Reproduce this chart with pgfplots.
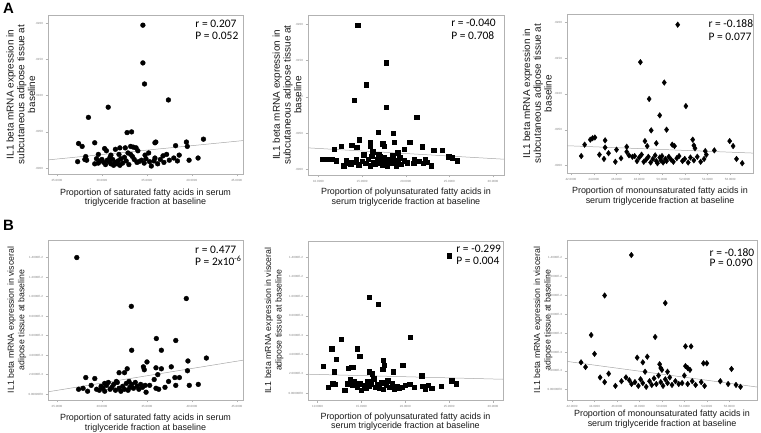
\documentclass[border=0pt]{standalone}
\usepackage{fontspec}
\setmainfont{Liberation Sans}
\newfontfamily\carlito{Carlito}
\usepackage{pgfplots}
\pgfplotsset{compat=1.18}
\pgfplotsset{
  panel/.style={
    scale only axis,
    axis line style={gray!60, line width=0.4pt},
    tick style={gray!60, line width=0.3pt},
    tick align=outside,
    major tick length=2.5bp,
    xtick pos=left, ytick pos=left,
    scaled x ticks=false, scaled y ticks=false,
    ticklabel style={font=\fontsize{3}{3.5}\selectfont, text=gray},
    xticklabel style={yshift=1bp},
    yticklabel style={xshift=1bp},
    xlabel style={font=\fontsize{9}{9.5}\selectfont, align=center, text=black!90, anchor=center},
    ylabel style={align=center, text=black!90, anchor=center},
  },
  dotA/.style={only marks, mark=*, mark size=2.4bp, black},
  sqA/.style={only marks, mark=square*, mark size=2.2bp, black},
  diA/.style={only marks, mark=diamond*, mark size=2.8bp, black},
  reg/.style={gray!70, line width=0.5pt, no marks},
}
\tikzset{rp/.style={font=\carlito\fontsize{11.5}{13}\selectfont, anchor=base west, inner sep=0pt}}
\begin{document}
\begin{tikzpicture}
\useasboundingbox (0bp,0bp) rectangle (761bp,433bp);
\node[anchor=north west, inner sep=0pt, font=\bfseries\fontsize{15}{15}\selectfont] at (3bp,430bp) {A};
\node[anchor=north west, inner sep=0pt, font=\bfseries\fontsize{15}{15}\selectfont] at (3bp,213bp) {B};

% ---------- A1 ----------
\begin{axis}[panel, at={(48bp,259bp)}, anchor=south west, width=195bp, height=159bp,
  xmin=24, xmax=45.7, ymin=-0.0008, ymax=0.0211,
  xtick={25,30,35,40,45}, xticklabels={25.0000,30.0000,35.0000,40.0000,45.0000},
  ytick={0,0.005,0.01,0.015,0.02}, yticklabels={.0000,.0050,.0100,.0150,.0200},
  xlabel={Proportion of saturated fatty acids in serum\\triglyceride fraction at baseline},
  xlabel style={at={(axis description cs:0.5,-0.148)}},
  ylabel={IL1 beta mRNA expression in\\subcutaneous adipose tissue at\\baseline},
  ylabel style={at={(axis description cs:-0.14,0.5)}, font=\fontsize{10}{10.8}\selectfont},
]
\addplot[reg] coordinates {(24,0.00114) (45.7,0.0038)};
\addplot[dotA] coordinates {
(34.56,0.0197)(34.56,0.0145)(34.74,0.0116)(37.4,0.0094)(30.7,0.0084)(28.5,0.0070)(32.8,0.0049)(33.3,0.0050)
(27.4,0.0034)(27.8,0.0030)(29.2,0.0035)(35.9,0.0035)(36.0,0.0036)(39.4,0.0036)(39.5,0.0030)(38.2,0.0031)(41.3,0.0040)
(33.2,0.0030)(33.5,0.0029)(33.8,0.0028)(32.0,0.0028)(32.6,0.0028)(30.3,0.0027)(31.5,0.0026)(30.5,0.0024)(29.6,0.0019)
(31.0,0.0018)(32.9,0.0021)(34.0,0.0024)(35.2,0.0021)(34.8,0.0018)(36.8,0.0017)(37.2,0.0019)(38.6,0.0018)
(27.3,0.0009)(28.2,0.0016)(28.1,0.0012)(28.3,0.0011)(39.7,0.0011)(40.7,0.0014)(29.2,0.0006)(29.6,0.0007)(29.8,0.0010)
(30.0,0.0012)(30.2,0.0008)(30.4,0.0005)(30.6,0.0011)(30.8,0.0009)(31.0,0.0006)(31.2,0.0012)(31.3,0.0004)(31.5,0.0008)
(31.7,0.0006)(31.8,0.0010)(32.0,0.0004)(32.1,0.0013)(32.3,0.0007)(32.5,0.0015)(32.7,0.0010)(33.0,0.0005)(33.4,0.0016)
(33.6,0.0012)(33.9,0.0008)(34.1,0.0009)(34.4,0.0011)(34.7,0.0007)(34.9,0.0013)(35.3,0.0009)(35.5,0.0003)(35.8,0.0010)
(36.2,0.0006)(36.5,0.0012)(36.9,0.0008)(37.5,0.0011)(38.0,0.0014)(38.4,0.0010)(30.9,0.0015)(29.4,0.0013)(31.9,0.0019)
(33.2,0.0019)(35.9,0.0014)
};
\node[rp] at (axis description cs:0.755,0.923) {r = 0.207};
\node[rp] at (axis description cs:0.755,0.843) {P = 0.052};
\end{axis}

% ---------- A2 ----------
\begin{axis}[panel, at={(308bp,258bp)}, anchor=south west, width=196bp, height=160bp,
  xmin=8.8, xmax=31.26, ymin=-0.0008, ymax=0.0213,
  xtick={10,15,20,25,30}, xticklabels={10.0000,15.0000,20.0000,25.0000,30.0000},
  ytick={0,0.005,0.01,0.015,0.02}, yticklabels={.0000,.0050,.0100,.0150,.0200},
  xlabel={Proportion of polyunsaturated fatty acids in\\serum triglyceride fraction at baseline},
  xlabel style={at={(axis description cs:0.5,-0.14)}},
  ylabel={IL1 beta mRNA expression in\\subcutaneous adipose tissue at\\baseline},
  ylabel style={at={(axis description cs:-0.107,0.5)}, font=\fontsize{10}{10.8}\selectfont},
]
\addplot[reg] coordinates {(8.8,0.00295) (31.26,0.00138)};
\addplot[sqA] coordinates {
(14.5,0.0199)(17.73,0.0147)(15.45,0.0117)(14.08,0.0095)(17.73,0.0086)(21.24,0.0072)(16.86,0.0051)(18.57,0.0050)
(14.69,0.0041)(15.9,0.0037)(15.9,0.0032)(17.35,0.0035)(17.5,0.0032)(18.67,0.0037)(20.45,0.0037)(19.8,0.0028)
(21.9,0.0031)(23.2,0.0026)(24.2,0.0026)(12.6,0.0032)(11.8,0.0028)(13.8,0.0033)(14.4,0.0030)(19.1,0.0023)
(10.5,0.0014)(11.1,0.0014)(11.5,0.0014)(12.0,0.0012)(24.9,0.0017)(25.3,0.0016)(25.9,0.0012)(22.9,0.0005)
(20.9,0.0008)(22.2,0.0014)
(12.9,0.0005)(13.2,0.0012)(13.5,0.0009)(13.7,0.0007)(14.0,0.0010)(14.3,0.0013)(14.6,0.0006)(15.0,0.0011)
(15.2,0.0020)(15.4,0.0008)(15.7,0.0014)(15.9,0.0005)(16.1,0.0018)(16.3,0.0010)(16.5,0.0007)(16.7,0.0013)
(16.9,0.0021)(17.1,0.0009)(17.3,0.0006)(17.5,0.0016)(17.7,0.0011)(17.9,0.0004)(18.1,0.0014)(18.3,0.0008)
(18.5,0.0019)(18.7,0.0012)(18.9,0.0005)(19.1,0.0010)(19.3,0.0016)(19.5,0.0007)(19.8,0.0012)(20.2,0.0009)
(21.0,0.0013)(21.5,0.0011)(22.0,0.0008)(22.4,0.0010)(16.2,0.0024)(17.0,0.0017)
};
\node[rp] at (axis description cs:0.73,0.925) {r = -0.040};
\node[rp] at (axis description cs:0.73,0.845) {P = 0.708};
\end{axis}

% ---------- A3 ----------
\begin{axis}[panel, at={(567bp,260bp)}, anchor=south west, width=186bp, height=159bp,
  xmin=41.65, xmax=58.0, ymin=-0.00107, ymax=0.0212,
  xtick={42,44,46,48,50,52,54,56}, xticklabels={42.0000,44.0000,46.0000,48.0000,50.0000,52.0000,54.0000,56.0000},
  ytick={0,0.005,0.01,0.015,0.02}, yticklabels={.0000,.0050,.0100,.0150,.0200},
  xlabel={Proportion of monounsaturated fatty acids in\\serum triglyceride fraction at baseline},
  xlabel style={at={(axis description cs:0.5,-0.145)}},
  ylabel={IL1 beta mRNA expression in\\subcutaneous adipose tissue at\\baseline},
  ylabel style={at={(axis description cs:-0.16,0.5)}, font=\fontsize{10}{10.8}\selectfont},
]
\addplot[reg] coordinates {(41.65,0.00275) (58.0,0.00172)};
\addplot[diA] coordinates {
(51.38,0.0197)(48.1,0.01445)(50.2,0.0116)(48.87,0.0093)(52.1,0.0083)(49.8,0.0070)(49.05,0.0049)(50.4,0.0050)
(43.2,0.0029)(43.7,0.0036)(43.9,0.0038)(44.1,0.0039)(45.0,0.0035)(45.0,0.0025)(44.5,0.0015)(44.9,0.0009)
(45.3,0.0017)(42.9,0.0013)(45.9,0.0005)(46.0,0.0022)(46.4,0.0010)(46.9,0.0026)(46.9,0.0019)(48.5,0.0034)
(48.7,0.0027)(49.5,0.0031)(50.9,0.0029)(51.1,0.0027)(52.7,0.0036)(52.8,0.0028)(52.9,0.0024)(53.8,0.0020)
(54.6,0.0021)(55.95,0.0034)(56.25,0.0027)(56.55,0.0009)(57.05,0.0003)
(47.1,0.0014)(47.4,0.0012)(47.6,0.0013)(47.8,0.0006)(48.0,0.0011)(48.2,0.0015)(48.4,0.0005)(48.6,0.0008)
(48.8,0.0012)(49.0,0.0004)(49.2,0.0009)(49.4,0.0014)(49.5,0.0006)(49.6,0.0003)(49.8,0.0011)(49.9,0.0007)
(50.0,0.0013)(50.1,0.0004)(50.3,0.0009)(50.4,0.0006)(50.6,0.0012)(50.8,0.0008)(51.0,0.0005)(51.3,0.0010)
(51.5,0.0013)(51.8,0.0006)(52.0,0.0009)(52.3,0.0004)(52.5,0.0011)(52.8,0.0007)(53.1,0.0012)(53.4,0.0005)
(53.7,0.0009)(53.9,0.0015)
};
\node[rp] at (axis description cs:0.76,0.918) {r = -0.188};
\node[rp] at (axis description cs:0.76,0.836) {P = 0.077};
\end{axis}

% ---------- B1 ----------
\begin{axis}[panel, at={(48bp,33bp)}, anchor=south west, width=195bp, height=160bp,
  xmin=24, xmax=45.67, ymin=-0.0006, ymax=0.0158,
  xtick={25,30,35,40,45}, xticklabels={25.0000,30.0000,35.0000,40.0000,45.0000},
  ytick={0,0.002,0.004,0.006,0.008,0.01,0.012,0.014},
  yticklabels={0.00000E0,2.0000E-3,4.0000E-3,6.0000E-3,8.0000E-3,1.0000E-2,1.2000E-2,1.4000E-2},
  xlabel={Proportion of saturated fatty acids in serum\\triglyceride fraction at baseline},
  xlabel style={at={(axis description cs:0.5,-0.144)}},
  ylabel={IL1 beta mRNA expression in visceral\\adipose tissue at baseline},
  ylabel style={at={(axis description cs:-0.16,0.5)}, font=\fontsize{8.8}{10.5}\selectfont},
]
\addplot[reg] coordinates {(24,0.00024) (45.67,0.00348)};
\addplot[dotA] coordinates {
(27.2,0.0140)(33.26,0.0090)(39.37,0.0098)(36.04,0.0057)(38.2,0.0055)(33.3,0.0045)(36.6,0.0045)(41.6,0.0037)
(39.55,0.0034)(39.5,0.0024)(35.0,0.0033)(34.6,0.0028)(34.7,0.0025)(32.8,0.0026)(31.9,0.0022)(32.5,0.0022)
(36.0,0.0027)(36.6,0.0026)(37.7,0.0028)(38.1,0.0017)(38.6,0.0017)(36.2,0.0020)(28.2,0.0017)(29.2,0.0016)
(27.4,0.0005)(27.9,0.0006)(28.4,0.0003)(28.8,0.0009)(39.7,0.0009)(40.7,0.0010)(38.2,0.0009)(36.0,0.0006)
(36.3,0.0005)(34.9,0.0002)(37.0,0.0007)(37.4,0.0013)(35.8,0.0015)(35.3,0.0009)
(29.4,0.0005)(29.7,0.0004)(29.9,0.0008)(30.1,0.0006)(30.3,0.0003)(30.5,0.0009)(30.7,0.0012)(30.9,0.0005)
(31.1,0.0007)(31.3,0.0010)(31.5,0.0004)(31.7,0.0012)(31.9,0.0006)(32.1,0.0003)(32.3,0.0008)(32.5,0.0005)
(32.7,0.0011)(32.9,0.0004)(33.1,0.0007)(33.3,0.0010)(33.5,0.0006)(33.7,0.0012)(33.9,0.0008)(34.1,0.0005)
(34.3,0.0010)(34.5,0.0007)(34.8,0.0009)(31.6,0.0013)(30.3,0.0011)(33.0,0.0013)
};
\node[rp] at (axis description cs:0.754,0.917) {r = 0.477};
\node[rp] at (axis description cs:0.754,0.84) {P = 2x10\textsuperscript{-6}};
\end{axis}

% ---------- B2 ----------
\begin{axis}[panel, at={(308bp,33bp)}, anchor=south west, width=195bp, height=159bp,
  xmin=8.9, xmax=31.14, ymin=-0.0007, ymax=0.0157,
  xtick={10,15,20,25,30}, xticklabels={10.0000,15.0000,20.0000,25.0000,30.0000},
  ytick={0,0.002,0.004,0.006,0.008,0.01,0.012,0.014},
  yticklabels={0.00000E0,2.0000E-3,4.0000E-3,6.0000E-3,8.0000E-3,1.0000E-2,1.2000E-2,1.4000E-2},
  xlabel={Proportion of polyunsaturated fatty acids in\\serum triglyceride fraction at baseline},
  xlabel style={at={(axis description cs:0.5,-0.137)}},
  ylabel={IL1 beta mRNA expression in visceral\\adipose tissue at baseline},
  ylabel style={at={(axis description cs:-0.174,0.5)}, font=\fontsize{8.8}{10.5}\selectfont},
]
\addplot[reg] coordinates {(8.9,0.00196) (31.14,0.00144)};
\addplot[sqA] coordinates {
(25.0,0.0142)(15.9,0.0099)(16.93,0.0092)(20.53,0.0058)(12.7,0.0056)(11.6,0.0046)(14.5,0.0046)(14.8,0.0038)
(12.1,0.0035)(10.6,0.0028)(11.9,0.0022)(13.5,0.0026)(13.8,0.0027)(14.0,0.0027)(17.5,0.0034)(17.6,0.0029)
(17.4,0.0025)(19.7,0.0029)(18.6,0.0022)(15.9,0.0022)(16.2,0.0020)(21.86,0.0018)(25.3,0.0013)(25.8,0.0010)
(24.1,0.0007)(11.2,0.0006)(13.1,0.0003)(11.7,0.0010)(12.0,0.0009)
(13.4,0.0010)(13.7,0.0014)(14.0,0.0008)(14.2,0.0012)(14.5,0.0006)(14.8,0.0010)(15.0,0.0003)(15.3,0.0008)
(15.5,0.0005)(15.7,0.0012)(15.9,0.0007)(16.1,0.0010)(16.4,0.0015)(16.6,0.0006)(16.8,0.0009)(17.0,0.0005)
(17.3,0.0011)(17.5,0.0004)(17.8,0.0008)(18.0,0.0013)(18.2,0.0006)(18.5,0.0010)(18.7,0.0004)(19.0,0.0007)
(19.3,0.0005)(19.6,0.0006)(20.0,0.0008)(20.5,0.0009)(21.0,0.0006)(22.0,0.0007)(22.3,0.0004)(22.6,0.0008)
(23.0,0.0005)
};
\node[rp] at (axis description cs:0.76,0.93) {r = -0.299};
\node[rp] at (axis description cs:0.76,0.85) {P = 0.004};
\end{axis}

% ---------- B3 ----------
\begin{axis}[panel, at={(567bp,33bp)}, anchor=south west, width=190bp, height=160bp,
  xmin=41.55, xmax=58.47, ymin=-0.0011, ymax=0.0159,
  xtick={42,44,46,48,50,52,54,56}, xticklabels={42.0000,44.0000,46.0000,48.0000,50.0000,52.0000,54.0000,56.0000},
  ytick={0,0.002,0.004,0.006,0.008,0.01,0.012,0.014},
  yticklabels={0.00000E0,2.0000E-3,4.0000E-3,6.0000E-3,8.0000E-3,1.0000E-2,1.2000E-2,1.4000E-2},
  xlabel={Proportion of monounsaturated fatty acids in\\serum triglyceride fraction at baseline},
  xlabel style={at={(axis description cs:0.5,-0.12)}},
  ylabel={IL1 beta mRNA expression in visceral\\adipose tissue at baseline},
  ylabel style={at={(axis description cs:-0.126,0.5)}, font=\fontsize{8.8}{10.5}\selectfont},
]
\addplot[reg] coordinates {(41.55,0.0030) (58.47,0.00028)};
\addplot[diA] coordinates {
(47.28,0.0143)(44.9,0.0100)(50.3,0.0092)(43.7,0.0058)(49.4,0.0056)(44.0,0.0038)(52.1,0.0046)(52.6,0.0046)
(47.8,0.0034)(48.7,0.0035)(42.8,0.0029)(43.2,0.0024)(49.8,0.0027)(49.9,0.0023)(50.0,0.0021)(52.1,0.0025)
(52.3,0.0023)(52.5,0.0021)(53.7,0.0028)(54.0,0.0028)(56.2,0.0022)(48.3,0.0029)(48.5,0.0019)(50.5,0.0019)
(45.26,0.0017)(44.5,0.0013)(44.9,0.0008)(45.86,0.0004)(46.4,0.0009)(46.8,0.0013)(55.9,0.0006)(56.6,0.0005)
(57.0,0.0003)(55.2,0.0009)
(47.1,0.0010)(47.3,0.0006)(47.6,0.0008)(47.9,0.0004)(48.1,0.0011)(48.3,0.0007)(48.6,0.0003)(48.9,0.0009)
(49.1,0.0005)(49.3,0.0012)(49.5,0.0006)(49.7,0.0015)(49.9,0.0008)(50.1,0.0004)(50.3,0.0011)(50.5,0.0007)
(50.7,0.0013)(50.9,0.0005)(51.2,0.0009)(51.5,0.0006)(51.8,0.0007)(52.0,0.0015)(52.3,0.0006)(52.7,0.0009)
(53.0,0.0005)(53.5,0.0008)(53.8,0.0004)
};
\node[rp] at (axis description cs:0.75,0.90) {r = -0.180};
\node[rp] at (axis description cs:0.75,0.833) {P = 0.090};
\end{axis}
\end{tikzpicture}
\end{document}
